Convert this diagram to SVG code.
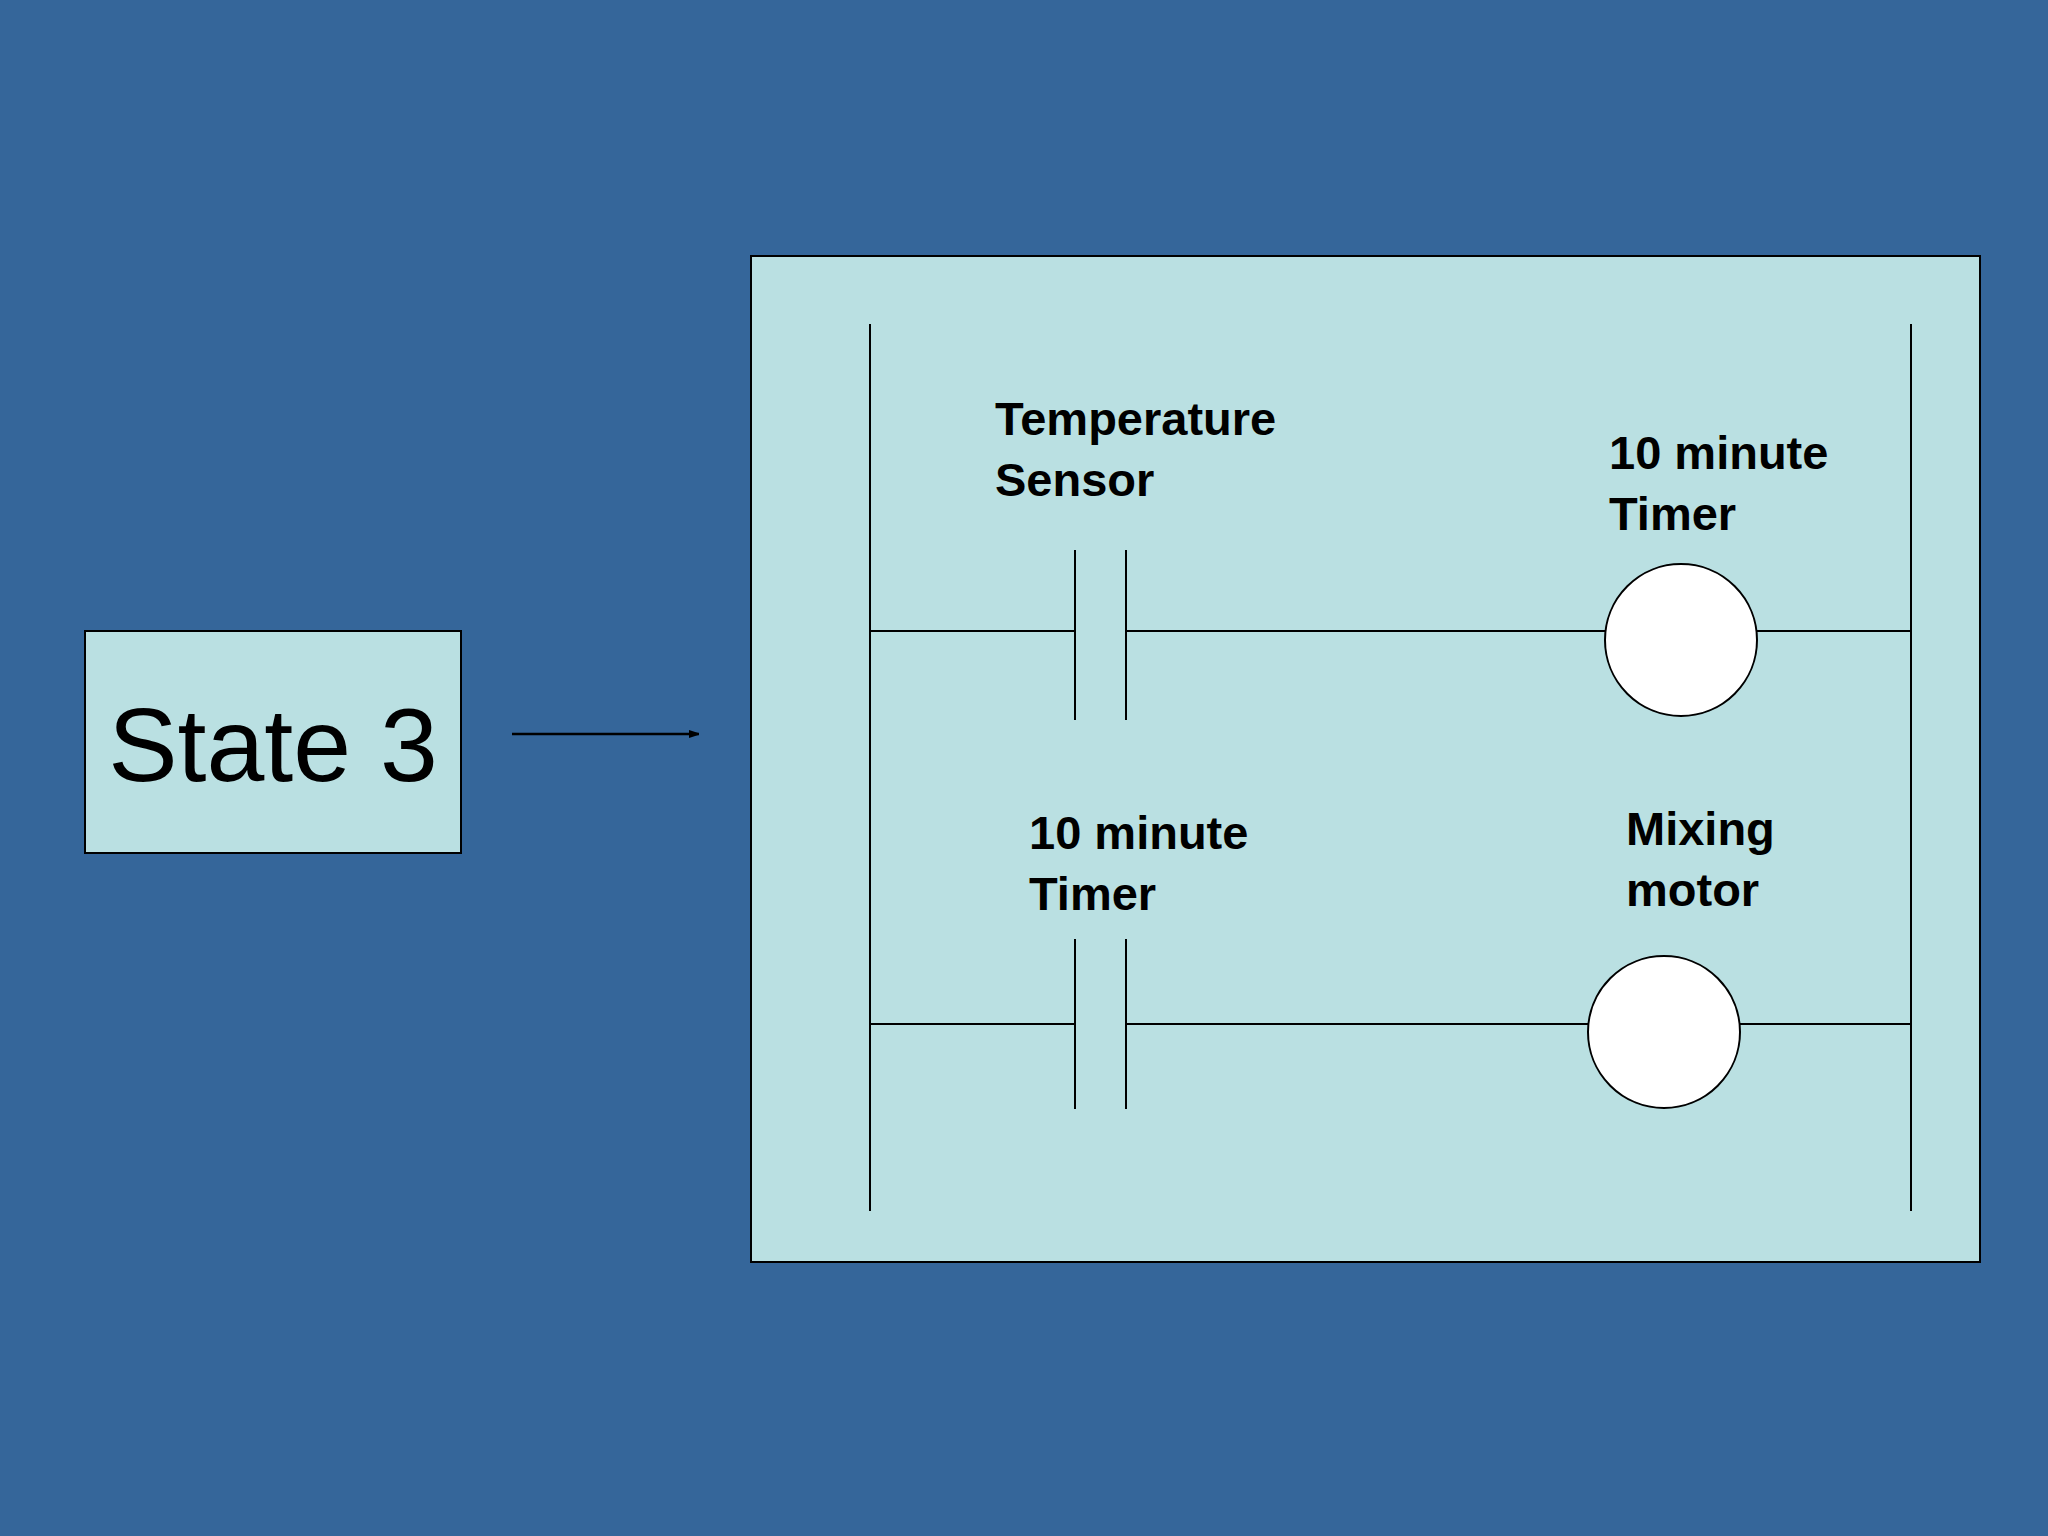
<svg xmlns="http://www.w3.org/2000/svg" width="2048" height="1536" viewBox="0 0 2048 1536">
<style>
.ln{stroke:#000;stroke-width:2;fill:none}
.lb{font-family:"Liberation Sans",Arial,sans-serif;font-weight:bold;font-size:47px;fill:#000}
.coil{fill:#fff;stroke:#000;stroke-width:2}
</style>
<defs><marker id="ah" markerWidth="10" markerHeight="8" refX="10" refY="4" orient="auto" markerUnits="userSpaceOnUse"><path d="M0,0L12,4L0,8z" fill="#000"/></marker></defs>
<rect width="2048" height="1536" fill="#35669A"/>
<g id="state3"><rect x="85" y="631" width="376" height="222" fill="#BAE0E2" stroke="#000" stroke-width="2"/>
<text x="273" y="781" text-anchor="middle" font-family="Liberation Sans,Arial,sans-serif" font-size="104">State 3</text></g>
<g id="ladder"><rect x="751" y="256" width="1229" height="1006" fill="#BAE0E2" stroke="#000" stroke-width="2"/>
<line class="ln" x1="870" y1="324" x2="870" y2="1211"/><line class="ln" x1="1911" y1="324" x2="1911" y2="1211"/>
<line class="ln" x1="870" y1="631" x2="1075" y2="631"/><line class="ln" x1="1126" y1="631" x2="1605" y2="631"/><line class="ln" x1="1757" y1="631" x2="1911" y2="631"/>
<line class="ln" x1="1075" y1="550" x2="1075" y2="720"/><line class="ln" x1="1126" y1="550" x2="1126" y2="720"/>
<circle class="coil" cx="1681" cy="640" r="76"/>
<line class="ln" x1="870" y1="1024" x2="1075" y2="1024"/><line class="ln" x1="1126" y1="1024" x2="1588" y2="1024"/><line class="ln" x1="1740" y1="1024" x2="1911" y2="1024"/>
<line class="ln" x1="1075" y1="939" x2="1075" y2="1109"/><line class="ln" x1="1126" y1="939" x2="1126" y2="1109"/>
<circle class="coil" cx="1664" cy="1032" r="76"/>
<text class="lb" x="995" y="435">Temperature</text><text class="lb" x="995" y="496">Sensor</text>
<text class="lb" x="1609" y="469">10 minute</text><text class="lb" x="1609" y="530">Timer</text>
<text class="lb" x="1029" y="849">10 minute</text><text class="lb" x="1029" y="910">Timer</text>
<text class="lb" x="1626" y="845">Mixing</text><text class="lb" x="1626" y="906">motor</text></g>
<g id="connectors"><line x1="512" y1="734" x2="699" y2="734" stroke="#000" stroke-width="2.5" marker-end="url(#ah)"/></g>
</svg>
